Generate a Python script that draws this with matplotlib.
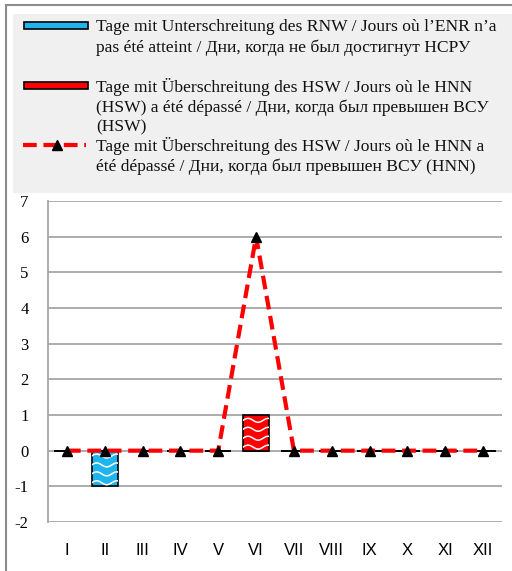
import numpy as np
import matplotlib.pyplot as plt
from matplotlib.patches import Rectangle
from matplotlib.lines import Line2D

# ---- data ----
months = ["I", "II", "III", "IV", "V", "VI", "VII", "VIII", "IX", "X", "XI", "XII"]
below_rnw = [0, -1, 0, 0, 0, 0, 0, 0, 0, 0, 0, 0]
above_hsw = [0, 0, 0, 0, 0, 1, 0, 0, 0, 0, 0, 0]
above_hnn = [0, 0, 0, 0, 0, 6, 0, 0, 0, 0, 0, 0]

legend_lines = [
    ["Tage mit Unterschreitung des RNW / Jours où l’ENR n’a",
     "pas été atteint / Дни, когда не был достигнут НСРУ"],
    ["Tage mit Überschreitung des HSW / Jours où le HNN",
     "(HSW) a été dépassé / Дни, когда был превышен ВСУ",
     "(HSW)"],
    ["Tage mit Überschreitung des HSW / Jours où le HNN a",
     "été dépassé / Дни, когда был превышен ВСУ (HNN)"],
]

BLUE = "#1fb4ec"
RED = "#ff0000"
GRID = "#a6a6a6"
DASH = (3.3, 1.6)

W, H = 512, 571
fig = plt.figure(figsize=(W / 100, H / 100), dpi=100)

def fx(px):
    return px / W

def fy(py):
    return 1 - py / H

# outer frame + legend background
fig.add_artist(Line2D([fx(6), fx(6)], [fy(5), 0], color="#8c8c8c", lw=1.5))
fig.add_artist(Line2D([fx(6), 1], [fy(5), fy(5)], color="#8c8c8c", lw=1.5))
fig.add_artist(Rectangle((fx(13), fy(193)), 1 - fx(13), fy(14) - fy(193),
                         transform=fig.transFigure, facecolor="#f0f0f0",
                         edgecolor="none"))

ax = fig.add_axes([fx(48), fy(522), fx(502) - fx(48), fy(201) - fy(522)])
x = np.arange(len(months))


def wavy(ax, bar):
    # white wave pattern inside the bar
    x0, y0 = bar.get_x(), bar.get_y()
    w, h = bar.get_width(), bar.get_height()
    ylo, yhi = min(y0, y0 + h), max(y0, y0 + h)
    t = np.linspace(x0, x0 + w, 80)
    for yy in np.arange(ylo + 0.1, yhi + 0.2, 0.25):
        ln, = ax.plot(t, yy + 0.055 * np.sin((t - x0) / w * 2 * np.pi * 1.3),
                      color="white", lw=1.1, zorder=3)
        ln.set_clip_path(bar)


bars_b = ax.bar(x, below_rnw, width=0.69, color=BLUE, edgecolor="black",
                linewidth=1.2, zorder=2)
bars_r = ax.bar(x, above_hsw, width=0.69, color=RED, edgecolor="black",
                linewidth=1.2, zorder=2)
for b in list(bars_b) + list(bars_r):
    if b.get_height() != 0:
        wavy(ax, b)

ax.plot(x, above_hnn, color=RED, lw=3, dashes=DASH, zorder=4)
ax.plot(x, above_hnn, ls="none", marker="^", color="black", ms=7.5, zorder=5)

ax.set_xlim(-0.5, 11.5)
ax.set_ylim(-2, 7)
ax.set_yticks(range(-2, 8))
ax.set_xticks(x)
ax.set_xticklabels(months, fontfamily="Liberation Sans", fontsize=12)
ax.set_yticklabels([str(v) for v in range(-2, 8)],
                   fontfamily="Liberation Serif", fontsize=12)
ax.tick_params(axis="both", length=0)
ax.tick_params(axis="x", pad=15)
ax.tick_params(axis="y", pad=14)
ax.grid(axis="y", color=GRID, lw=1.3, zorder=0)
for s in ["top", "right", "bottom"]:
    ax.spines[s].set_visible(False)
ax.spines["left"].set_color(GRID)
ax.spines["left"].set_linewidth(1.3)

# ---- legend (drawn by hand) ----
fig.add_artist(Rectangle((fx(24), fy(29)), fx(64), fy(22) - fy(29),
                         transform=fig.transFigure, facecolor=BLUE,
                         edgecolor="black", lw=1.2))
fig.add_artist(Rectangle((fx(24), fy(89)), fx(64), fy(82) - fy(89),
                         transform=fig.transFigure, facecolor=RED,
                         edgecolor="black", lw=1.2))
fig.add_artist(Line2D([fx(23), fx(86)], [fy(145), fy(145)], color=RED,
                      lw=3, dashes=DASH))
fig.add_artist(Line2D([fx(57)], [fy(145)], ls="none", marker="^",
                      color="black", ms=7.5))

starts = [27, 87, 146]
for entry, y0 in zip(legend_lines, starts):
    for i, line in enumerate(entry):
        fig.text(fx(96), fy(y0 + i * 20.3), line, fontfamily="Liberation Serif",
                 fontsize=12.6, va="center", ha="left", color="#111111")

fig.savefig("out.png", dpi=100)
